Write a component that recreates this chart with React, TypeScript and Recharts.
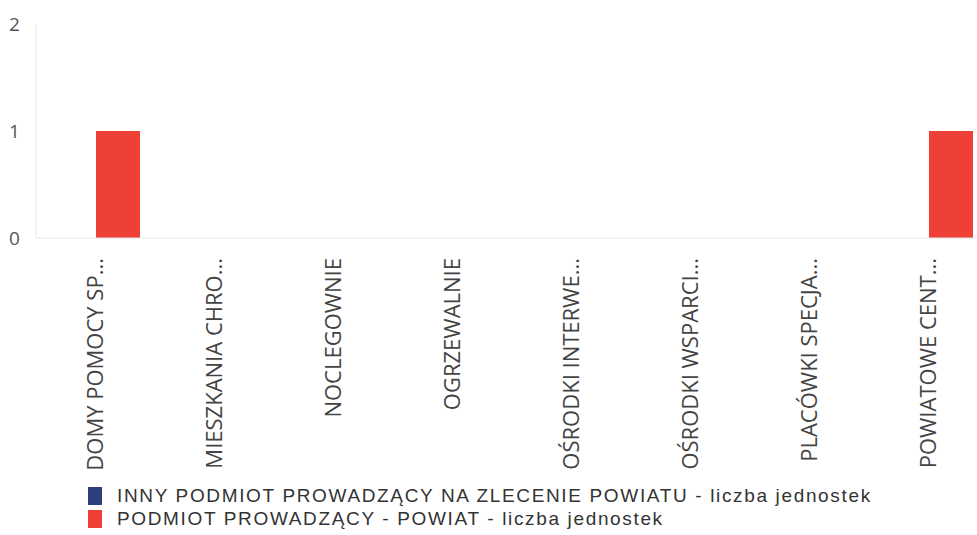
import { Bar, BarChart, Legend, XAxis, YAxis } from "recharts"

const categories = [
  "DOMY POMOCY SP...",
  "MIESZKANIA CHRO...",
  "NOCLEGOWNIE",
  "OGRZEWALNIE",
  "OŚRODKI INTERWE...",
  "OŚRODKI WSPARCI...",
  "PLACÓWKI SPECJA...",
  "POWIATOWE CENT...",
]
const innyValues = [0, 0, 0, 0, 0, 0, 0, 0]
const powiatValues = [1, 0, 0, 0, 0, 0, 0, 1]
const yTicks = [0, 1, 2]

const INNY = "INNY PODMIOT PROWADZĄCY NA ZLECENIE POWIATU - liczba jednostek"
const POWIAT = "PODMIOT PROWADZĄCY - POWIAT - liczba jednostek"

const data = categories.map((name, i) => ({ name, inny: innyValues[i], powiat: powiatValues[i] }))

const font = "'Open Sans', sans-serif"
const legendFont = "'Liberation Sans', Arial, sans-serif"

function XTick({ x, y, payload }: any) {
  return (
    <g transform={`translate(${x},${y + 12})`}>
      <text transform="rotate(-90)" textAnchor="end" dy={7} fontSize={22} fill="#444" fontFamily={font}>
        {payload.value}
      </text>
    </g>
  )
}

function YTick({ y, payload }: any) {
  return (
    <text x={9} y={y} dy={7} fontSize={19} fill="#555" fontFamily={font}>
      {payload.value}
    </text>
  )
}

function LegendBox() {
  const items = [
    { label: INNY, color: "#2c3f7c" },
    { label: POWIAT, color: "#ee4036" },
  ]
  return (
    <div style={{ paddingLeft: 88, paddingTop: 6, fontFamily: legendFont, fontSize: 19, letterSpacing: 1.65, color: "#333" }}>
      {items.map((it) => (
        <div key={it.label} style={{ display: "flex", alignItems: "center", height: 23, lineHeight: "23px", whiteSpace: "nowrap" }}>
          <span style={{ width: 14, height: 18, background: it.color, marginRight: 15, display: "inline-block" }} />
          {it.label}
        </div>
      ))}
    </div>
  )
}

export default function App() {
  return (
    <div style={{ position: "absolute", left: 0, top: 0, width: 977, height: 535, overflow: "hidden", background: "#fff" }}>
      <BarChart
        width={990}
        height={535}
        data={data}
        margin={{ top: 24, right: 2, left: 0, bottom: 0 }}
        barGap={0}
        barSize={44}
      >
        <XAxis dataKey="name" interval={0} height={240} tickLine={false} stroke="#e6e6e6" tick={<XTick />} />
        <YAxis domain={[0, 2]} ticks={yTicks} width={36} tickLine={false} stroke="#e6e6e6" tick={<YTick />} />
        <Legend verticalAlign="bottom" wrapperStyle={{ height: 57 }} content={<LegendBox />} />
        <Bar dataKey="inny" name={INNY} fill="#2c3f7c" isAnimationActive={false} />
        <Bar dataKey="powiat" name={POWIAT} fill="#ee4036" isAnimationActive={false} />
      </BarChart>
    </div>
  )
}
